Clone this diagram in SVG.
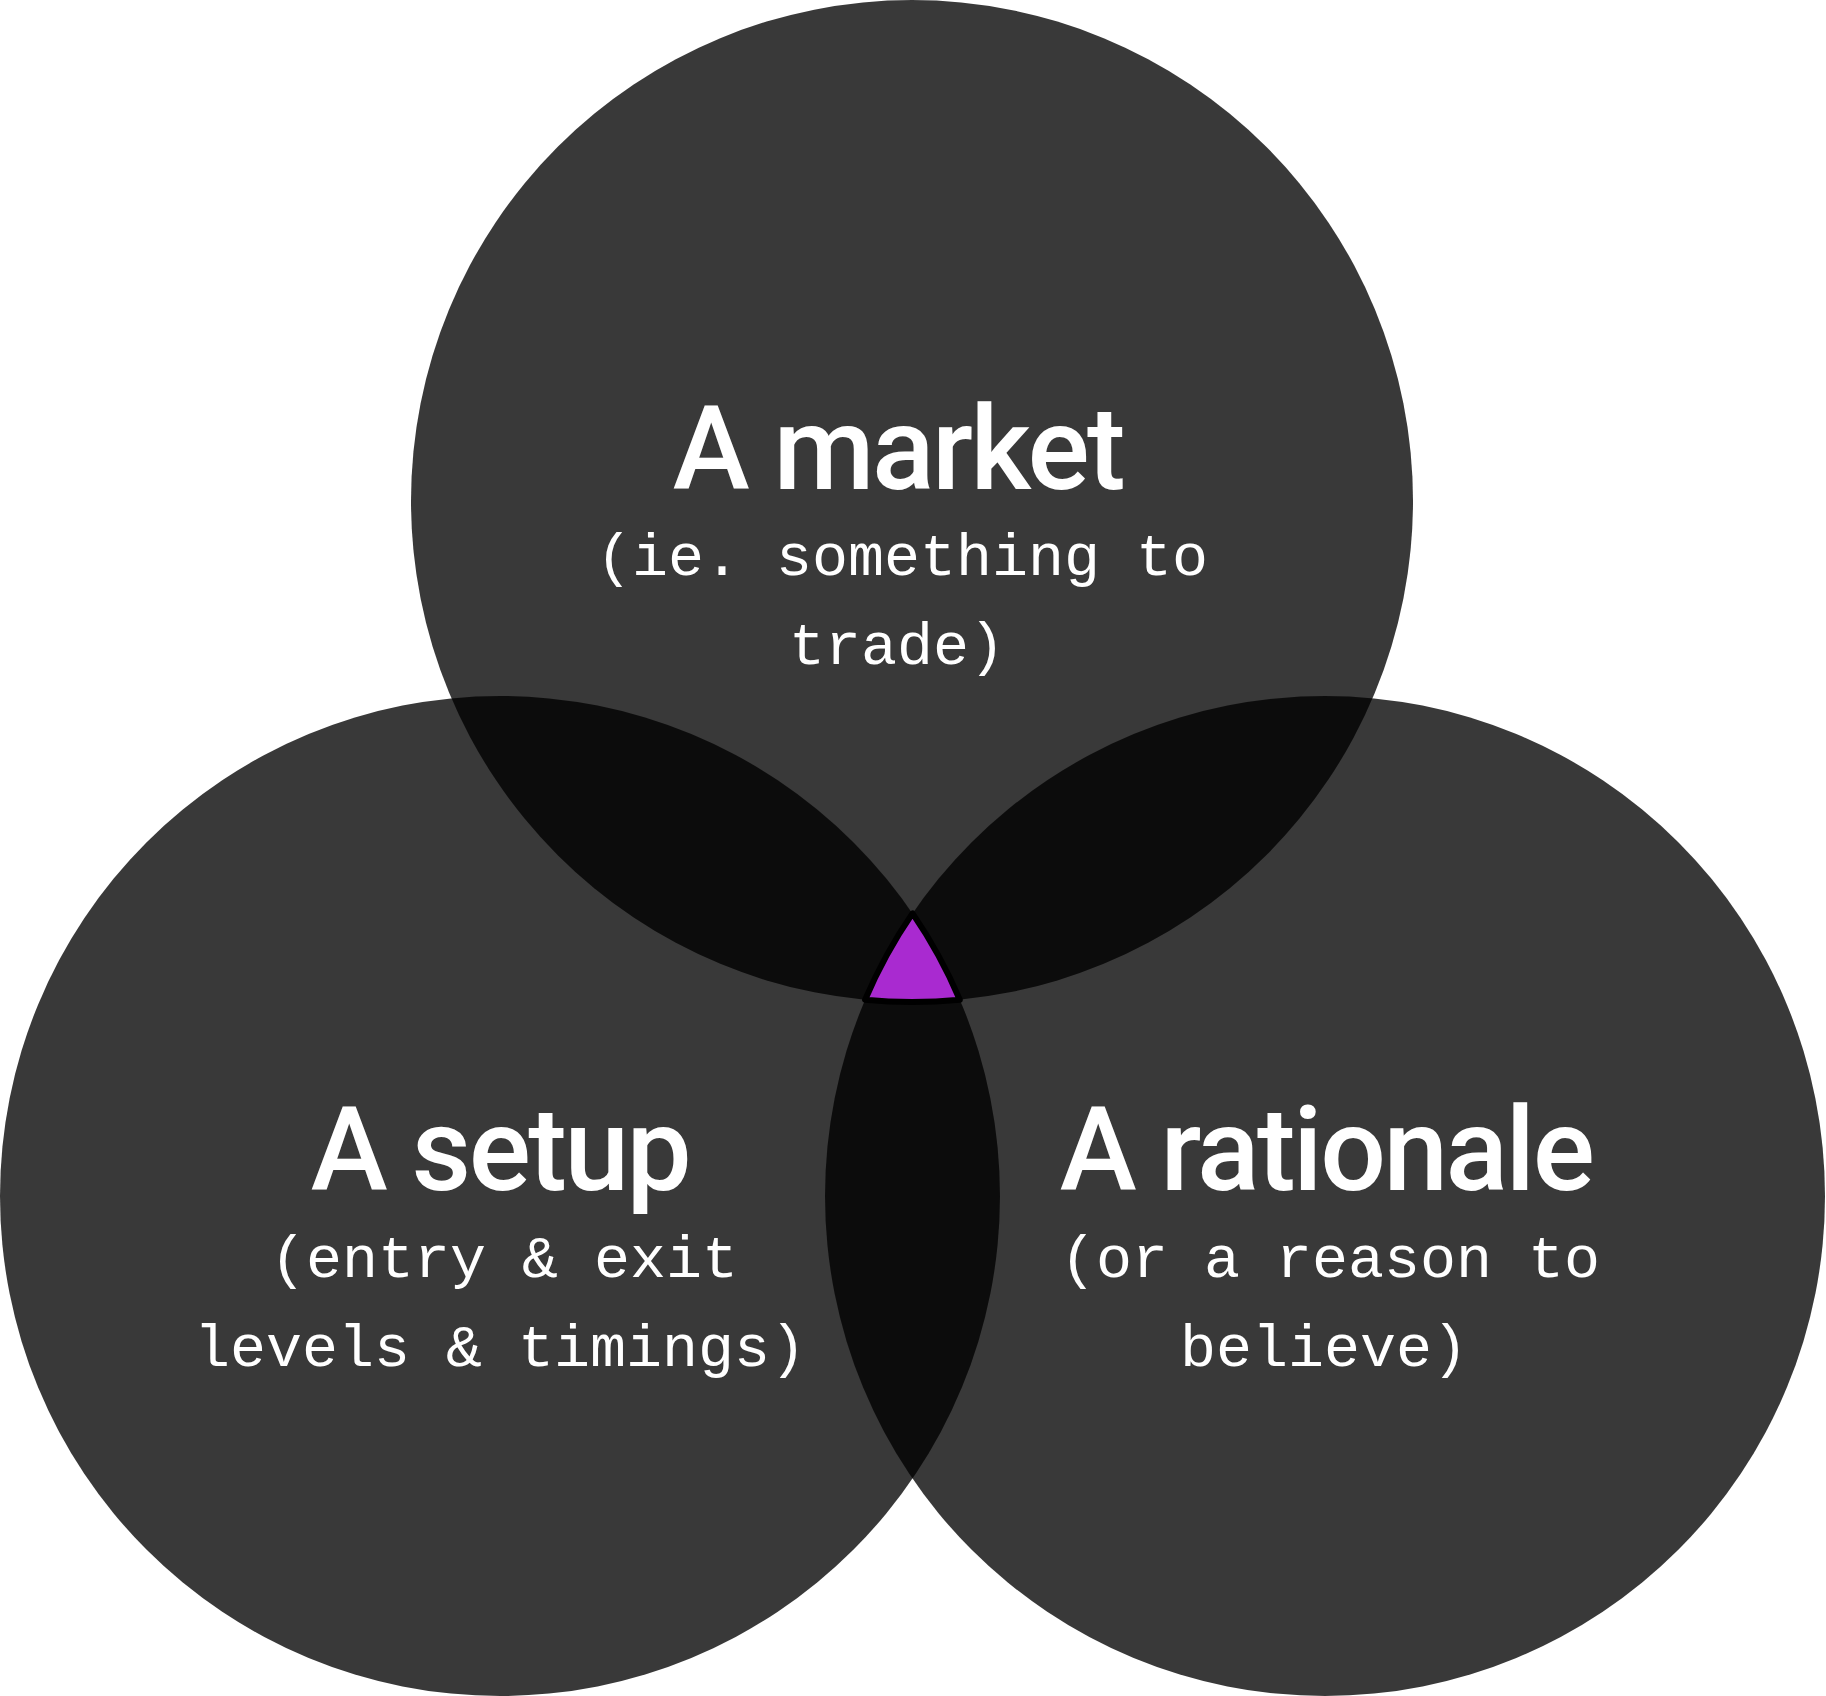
<svg xmlns="http://www.w3.org/2000/svg" width="1826" height="1696" viewBox="0 0 1826 1696">
<style>
.c{fill:#000;fill-opacity:0.776}
.t{font-family:Roboto,"Liberation Sans",sans-serif;font-weight:500;font-size:116px;letter-spacing:-2.5px;fill:#fff;text-anchor:middle}
.s{font-family:"Liberation Mono","DejaVu Sans Mono",monospace;font-size:60px;fill:#fff;text-anchor:middle}
.core{fill:#a92ad0;stroke:#000;stroke-width:6;stroke-linejoin:round}
</style>
<rect width="1826" height="1696" fill="#fff"/>
<g id="market">
<circle class="c" cx="912" cy="501" r="501"/>
<text class="t" x="898" y="489">A market</text>
<text class="s" x="902" y="575">(ie. something to</text>
<text class="s" x="897" y="664">trade)</text>
</g>
<g id="setup">
<circle class="c" cx="500" cy="1196" r="500"/>
<text class="t" x="500" y="1190">A setup</text>
<text class="s" x="504" y="1277">(entry &amp; exit</text>
<text class="s" x="500" y="1366">levels &amp; timings)</text>
</g>
<g id="rationale">
<circle class="c" cx="1325" cy="1196" r="500"/>
<text class="t" x="1326" y="1190">A rationale</text>
<text class="s" x="1330" y="1277">(or a reason to</text>
<text class="s" x="1324" y="1366">believe)</text>
</g>
<g id="connectors"/>
<g id="intersection">
<path class="core" d="M912.5,913.4 A500,500 0 0 0 865.1,999.8 A501,501 0 0 0 959.8,999.7 A500,500 0 0 0 912.5,913.4 Z"/>
</g>
</svg>
